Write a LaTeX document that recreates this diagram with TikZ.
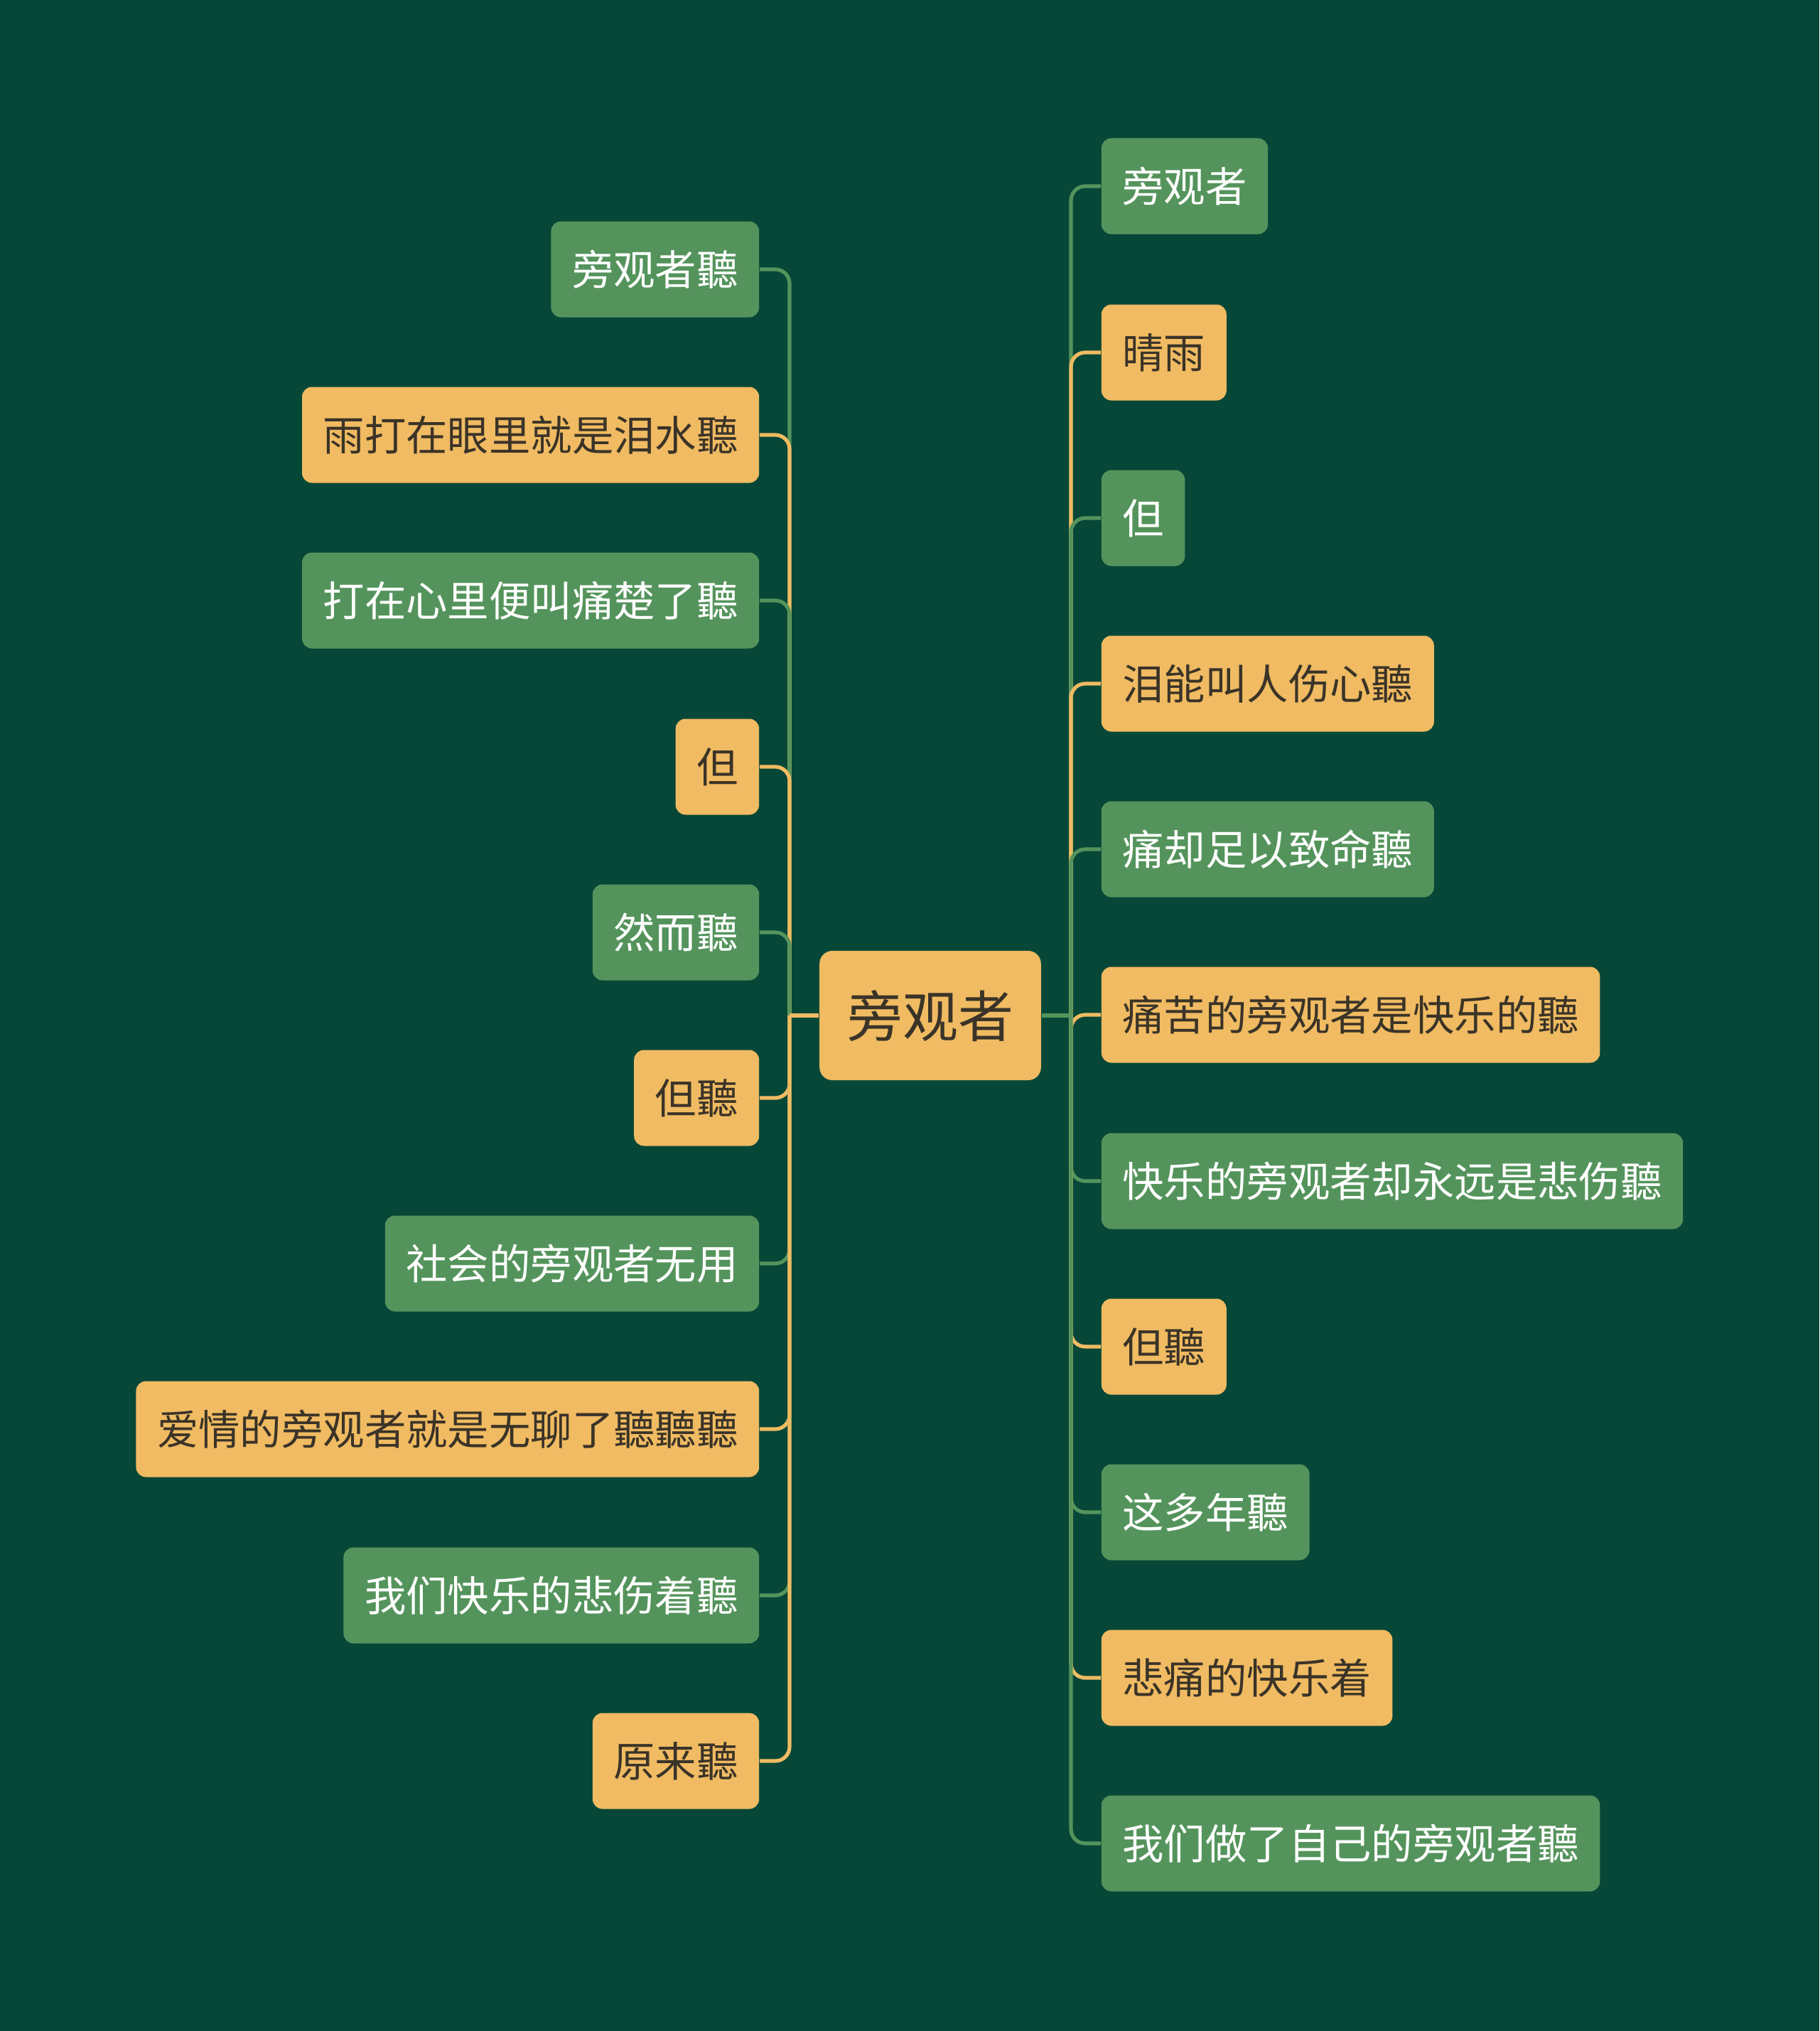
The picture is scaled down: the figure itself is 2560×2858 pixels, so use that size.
\documentclass[tikz,border=0pt]{standalone}
\usepackage{fontspec}
\setmainfont{Noto Sans CJK SC}
\definecolor{bg}{HTML}{074737}
\definecolor{gn}{HTML}{54945C}
\definecolor{yl}{HTML}{F0BB62}
\definecolor{dk}{HTML}{3A3328}
\begin{document}
\begin{tikzpicture}[x=0.25pt,y=-0.25pt,
  box/.style={rounded corners=3.5pt,inner xsep=7.4pt,inner ysep=0pt,minimum height=33.75pt,font=\fontsize{14.6pt}{16pt}\selectfont},
  gbox/.style={box,fill=gn,text=white},
  ybox/.style={box,fill=yl,text=dk},
  gl/.style={draw=gn,line width=1.3pt,rounded corners=5pt},
  yl/.style={draw=yl,line width=1.3pt,rounded corners=5pt}]
\fill[bg] (0,0) rectangle (2560,2858);
\useasboundingbox (0,0) rectangle (2560,2858);
\node[rounded corners=4.5pt,fill=yl,text=dk,inner xsep=9.7pt,inner ysep=0pt,minimum height=45.5pt,font=\fontsize{19.5pt}{22pt}\selectfont] (root) at (1309,1429) {旁观者};
\coordinate (ls) at (1111,1429);
\coordinate (rs) at (1507,1429);
% left nodes
\node[gbox,anchor=east] (l1) at (1069,379) {旁观者聽};
\node[ybox,anchor=east] (l2) at (1069,612) {雨打在眼里就是泪水聽};
\node[gbox,anchor=east] (l3) at (1069,845) {打在心里便叫痛楚了聽};
\node[ybox,anchor=east] (l4) at (1069,1079) {但};
\node[gbox,anchor=east] (l5) at (1069,1312) {然而聽};
\node[ybox,anchor=east] (l6) at (1069,1545) {但聽};
\node[gbox,anchor=east] (l7) at (1069,1778) {社会的旁观者无用};
\node[ybox,anchor=east] (l8) at (1069,2011) {爱情的旁观者就是无聊了聽聽聽};
\node[gbox,anchor=east] (l9) at (1069,2245) {我们快乐的悲伤着聽};
\node[ybox,anchor=east] (l10) at (1069,2478) {原来聽};
% right nodes
\node[gbox,anchor=west] (r1) at (1549,262) {旁观者};
\node[ybox,anchor=west] (r2) at (1549,496) {晴雨};
\node[gbox,anchor=west] (r3) at (1549,729) {但};
\node[ybox,anchor=west] (r4) at (1549,962) {泪能叫人伤心聽};
\node[gbox,anchor=west] (r5) at (1549,1195) {痛却足以致命聽};
\node[ybox,anchor=west] (r6) at (1549,1428) {痛苦的旁观者是快乐的聽};
\node[gbox,anchor=west] (r7) at (1549,1662) {快乐的旁观者却永远是悲伤聽};
\node[ybox,anchor=west] (r8) at (1549,1895) {但聽};
\node[gbox,anchor=west] (r9) at (1549,2128) {这多年聽};
\node[ybox,anchor=west] (r10) at (1549,2361) {悲痛的快乐着};
\node[gbox,anchor=west] (r11) at (1549,2594) {我们做了自己的旁观者聽};
% connectors
\foreach \n/\s in {l1/gl,l2/yl,l3/gl,l4/yl,l5/gl,l6/yl,l7/gl,l8/yl,l9/gl,l10/yl}{
  \draw[\s] (ls) -- (ls |- \n.east) -- (\n.east);
}
\foreach \n/\s in {r1/gl,r2/yl,r3/gl,r4/yl,r5/gl,r6/yl,r7/gl,r8/yl,r9/gl,r10/yl,r11/gl}{
  \draw[\s] (rs) -- (rs |- \n.west) -- (\n.west);
}
\draw[yl,rounded corners=0pt] (root.west) -- (ls);
\draw[gl,rounded corners=0pt] (root.east) -- (rs);
\end{tikzpicture}
\end{document}
